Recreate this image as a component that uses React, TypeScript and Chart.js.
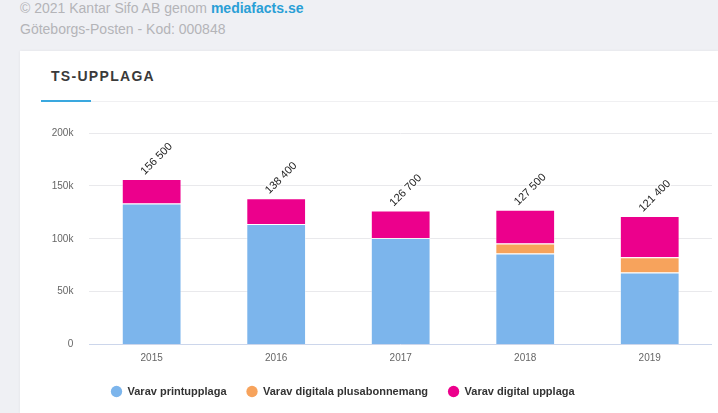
import React, { useEffect, useRef } from "react";
import { Chart, registerables } from "chart.js";

Chart.register(...registerables);

const categories = ["2015", "2016", "2017", "2018", "2019"];
const printValues = [133400, 114000, 100800, 86000, 68200];
const plusValues = [null, null, null, 9400, 14300];
const digitalValues = [23100, 24400, 25900, 32100, 38900];
const seriesNames = ["Varav printupplaga", "Varav digitala plusabonnemang", "Varav digital upplaga"];
const seriesColors = ["#7cb5ec", "#f7a35c", "#ec008c"];
const yTicks = [0, 50000, 100000, 150000, 200000];

const FONT = "'Liberation Sans', Arial, Helvetica, sans-serif";

function fmtTotal(v: number) {
  const r = Math.round(v / 100) * 100;
  return String(r).replace(/\B(?=(\d{3})+(?!\d))/g, " ");
}

const stackLabels = {
  id: "stackLabels",
  afterDatasetsDraw(chart: any) {
    const ctx = chart.ctx;
    const n = chart.data.labels.length;
    for (let i = 0; i < n; i++) {
      let total = 0;
      let top = Infinity;
      let x = 0;
      chart.data.datasets.forEach((ds: any, di: number) => {
        const v = ds.data[i];
        if (v == null) return;
        total += v;
        const el = chart.getDatasetMeta(di).data[i];
        if (el && el.y < top) {
          top = el.y;
          x = el.x;
        }
      });
      const text = fmtTotal(total);
      ctx.save();
      ctx.translate(x - 9, top - 6);
      ctx.rotate(-Math.PI / 4);
      ctx.font = `11px ${FONT}`;
      ctx.textAlign = "left";
      ctx.textBaseline = "middle";
      ctx.lineJoin = "round";
      ctx.strokeStyle = "rgba(255,255,255,0.9)";
      ctx.lineWidth = 2.5;
      ctx.strokeText(text, 0, 0);
      ctx.fillStyle = "#222222";
      ctx.fillText(text, 0, 0);
      ctx.restore();
    }
  },
};

const legendShift = {
  id: "legendShift",
  afterLayout(chart: any) {
    const lg = chart.legend;
    if (!lg) return;
    const w = lg.right - lg.left;
    lg.left = 71;
    lg.right = 71 + w;
  },
};

export default function App() {
  const ref = useRef<HTMLCanvasElement | null>(null);

  useEffect(() => {
    if (!ref.current) return;
    Chart.defaults.font.family = FONT;
    const chart = new Chart(ref.current, {
      type: "bar",
      data: {
        labels: categories,
        datasets: [
          { label: seriesNames[0], data: printValues, backgroundColor: seriesColors[0] },
          { label: seriesNames[1], data: plusValues as any, backgroundColor: seriesColors[1] },
          { label: seriesNames[2], data: digitalValues, backgroundColor: seriesColors[2] },
        ].map((d) => ({
          ...d,
          borderColor: "rgba(255,255,255,0.45)",
          borderWidth: 1,
          barPercentage: 0.48,
          categoryPercentage: 1,
        })),
      },
      options: {
        animation: false,
        responsive: false,
        maintainAspectRatio: false,
        layout: { padding: { top: 23, right: 6, bottom: 6, left: 0 } },
        scales: {
          x: {
            stacked: true,
            grid: { display: false, drawTicks: false },
            border: { display: false },
            ticks: { color: "#666666", font: { size: 10 }, padding: 8 },
            afterFit(scale: any) {
              scale.height = 21.5;
            },
          },
          y: {
            stacked: true,
            min: 0,
            max: 200000,
            afterBuildTicks(scale: any) {
              scale.ticks = yTicks.map((v) => ({ value: v }));
            },
            grid: {
              drawTicks: false,
              color: (c: any) => (c.tick && c.tick.value === 0 ? "#ccd6eb" : "#e9e9ec"),
            },
            border: { display: false },
            ticks: {
              color: "#666666",
              font: { size: 10 },
              padding: 16,
              callback: (v: any) => (Number(v) === 0 ? "0" : Number(v) / 1000 + "k"),
            },
            afterFit(scale: any) {
              scale.width = 69.4;
            },
          },
        },
        plugins: {
          legend: {
            position: "bottom",
            align: "start",
            labels: {
              usePointStyle: true,
              pointStyle: "circle",
              boxWidth: 11,
              boxHeight: 8,
              padding: 20,
              color: "#333333",
              font: { size: 11, weight: "bold" },
              generateLabels(chart: any) {
                const items = Chart.defaults.plugins.legend.labels.generateLabels(chart);
                return items.map((it: any) => ({ ...it, strokeStyle: it.fillStyle, lineWidth: 0 }));
              },
            },
          },
          tooltip: { enabled: false },
        },
      } as any,
      plugins: [stackLabels, legendShift],
    });
    return () => chart.destroy();
  }, []);

  return (
    <div
      style={{
        position: "fixed",
        left: 0,
        top: 0,
        width: 718,
        height: 413,
        background: "#eff0f4",
        overflow: "hidden",
        fontFamily: FONT,
      }}
    >
      <div style={{ position: "absolute", left: 20, top: 0, fontSize: 14, lineHeight: "16px", color: "#b4b4b8", whiteSpace: "nowrap" }}>
        © 2021 Kantar Sifo AB genom <span style={{ color: "#2a9fd6", fontWeight: "bold" }}>mediafacts.se</span>
      </div>
      <div style={{ position: "absolute", left: 20, top: 21, fontSize: 14, lineHeight: "16px", color: "#b4b4b8", whiteSpace: "nowrap" }}>
        Göteborgs-Posten - Kod: 000848
      </div>
      <div
        style={{
          position: "absolute",
          left: 20,
          top: 51,
          width: 698,
          height: 362,
          background: "#ffffff",
          boxShadow: "0 0 3px rgba(0,0,0,0.06)",
        }}
      >
        <div
          style={{
            position: "absolute",
            left: 31,
            top: 17,
            fontSize: 14,
            lineHeight: "17px",
            fontWeight: "bold",
            letterSpacing: "1.3px",
            color: "#3a3a3a",
            whiteSpace: "nowrap",
          }}
        >
          TS-UPPLAGA
        </div>
        <div style={{ position: "absolute", left: 21, top: 50, width: 677, height: 1, background: "#f0f0f2" }} />
        <div style={{ position: "absolute", left: 21, top: 49, width: 50, height: 2, background: "#3aa8df" }} />
      </div>
      <canvas ref={ref} width={698} height={303} style={{ position: "absolute", left: 20, top: 110, width: 698, height: 303 }} />
    </div>
  );
}
